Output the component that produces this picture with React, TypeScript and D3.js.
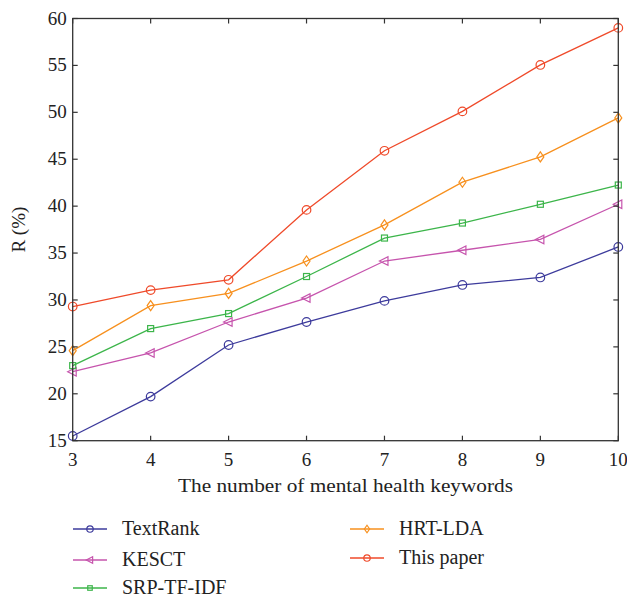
import React from "react";
import * as d3 from "d3";

const keywords = [3, 4, 5, 6, 7, 8, 9, 10];
const textRank = [15.5, 19.7, 25.2, 27.65, 29.9, 31.6, 32.4, 35.65];
const kesct = [22.35, 24.35, 27.65, 30.2, 34.15, 35.3, 36.45, 40.2];
const srpTfIdf = [23.0, 26.95, 28.55, 32.5, 36.6, 38.2, 40.2, 42.25];
const hrtLda = [24.6, 29.4, 30.7, 34.15, 38.0, 42.55, 45.25, 49.4];
const thisPaper = [29.3, 31.05, 32.15, 39.6, 45.9, 50.1, 55.05, 59.0];
const yTicks = [15, 20, 25, 30, 35, 40, 45, 50, 55, 60];

const series = [
  { name: "TextRank", values: textRank, color: "#3d3b9c", marker: "circle" },
  { name: "KESCT", values: kesct, color: "#c654ad", marker: "triangle" },
  { name: "SRP-TF-IDF", values: srpTfIdf, color: "#3cb54a", marker: "square" },
  { name: "HRT-LDA", values: hrtLda, color: "#f7901e", marker: "diamond" },
  { name: "This paper", values: thisPaper, color: "#ef4a2a", marker: "circle" },
];

const FONT = "'Liberation Serif', 'DejaVu Serif', serif";

function Marker({ type, x, y, color, s = 1 }: { type: string; x: number; y: number; color: string; s?: number }) {
  const common = { fill: "none", stroke: color, strokeWidth: 1.2 };
  if (type === "circle") return <circle cx={x} cy={y} r={4.3 * s} {...common} />;
  if (type === "square") return <rect x={x - 3 * s} y={y - 3 * s} width={6 * s} height={6 * s} {...common} />;
  if (type === "diamond")
    return <path d={`M${x},${y - 5 * s}L${x + 3.5 * s},${y}L${x},${y + 5 * s}L${x - 3.5 * s},${y}Z`} {...common} />;
  return <path d={`M${x - 5 * s},${y}L${x + 3.5 * s},${y - 4.3 * s}L${x + 3.5 * s},${y + 4.3 * s}Z`} {...common} />;
}

export default function App() {
  const W = 627, H = 597;
  const left = 72.7, right = 618.3, top = 18.5, bottom = 440.7;
  const x = d3.scaleLinear().domain([3, 10]).range([left, right]);
  const y = d3.scaleLinear().domain([15, 60]).range([bottom, top]);
  const line = d3.line<number>().x((_, i) => x(keywords[i])).y((d) => y(d));
  const tick = 5;

  const legendPos = [
    { lx: 73, ly: 529 },
    { lx: 73, ly: 560 },
    { lx: 73, ly: 588 },
    { lx: 350, ly: 529 },
    { lx: 350, ly: 558 },
  ];

  return (
    <svg width={W} height={H} style={{ position: "absolute", left: 0, top: 0 }} fontFamily={FONT}>
      <rect width={W} height={H} fill="#fff" />
      {series.map((s) => (
        <g key={s.name}>
          <path d={line(s.values) || ""} fill="none" stroke={s.color} strokeWidth={1.3} />
          {s.values.map((v, i) => (
            <Marker key={i} type={s.marker} x={x(keywords[i])} y={y(v)} color={s.color} />
          ))}
        </g>
      ))}
      <rect x={left} y={top} width={right - left} height={bottom - top} fill="none" stroke="#333" strokeWidth={1.3} />
      {keywords.map((k) => (
        <g key={k}>
          <line x1={x(k)} x2={x(k)} y1={bottom} y2={bottom - tick} stroke="#333" strokeWidth={1.2} />
          <line x1={x(k)} x2={x(k)} y1={top} y2={top + tick} stroke="#333" strokeWidth={1.2} />
          <text x={x(k)} y={bottom + 25} textAnchor="middle" fontSize={19} fill="#222">{k}</text>
        </g>
      ))}
      {yTicks.map((t) => (
        <g key={t}>
          <line x1={left} x2={left + tick} y1={y(t)} y2={y(t)} stroke="#333" strokeWidth={1.2} />
          <line x1={right} x2={right - tick} y1={y(t)} y2={y(t)} stroke="#333" strokeWidth={1.2} />
          <text x={left - 6} y={y(t) + 6} textAnchor="end" fontSize={19} fill="#222">{t}</text>
        </g>
      ))}
      <text x={(left + right) / 2} y={bottom + 51} textAnchor="middle" fontSize={19} fill="#222"
        textLength={335} lengthAdjust="spacingAndGlyphs">
        The number of mental health keywords
      </text>
      <text transform={`translate(25, ${(top + bottom) / 2}) rotate(-90)`} textAnchor="middle" fontSize={19} fill="#222">
        R (%)
      </text>
      {series.map((s, i) => {
        const p = legendPos[i];
        return (
          <g key={s.name}>
            <line x1={p.lx} x2={p.lx + 34} y1={p.ly} y2={p.ly} stroke={s.color} strokeWidth={1.3} />
            <Marker type={s.marker} x={p.lx + 17} y={p.ly} color={s.color} s={0.75} />
            <text x={p.lx + 49} y={p.ly + 6} fontSize={20} fill="#222">{s.name}</text>
          </g>
        );
      })}
    </svg>
  );
}
